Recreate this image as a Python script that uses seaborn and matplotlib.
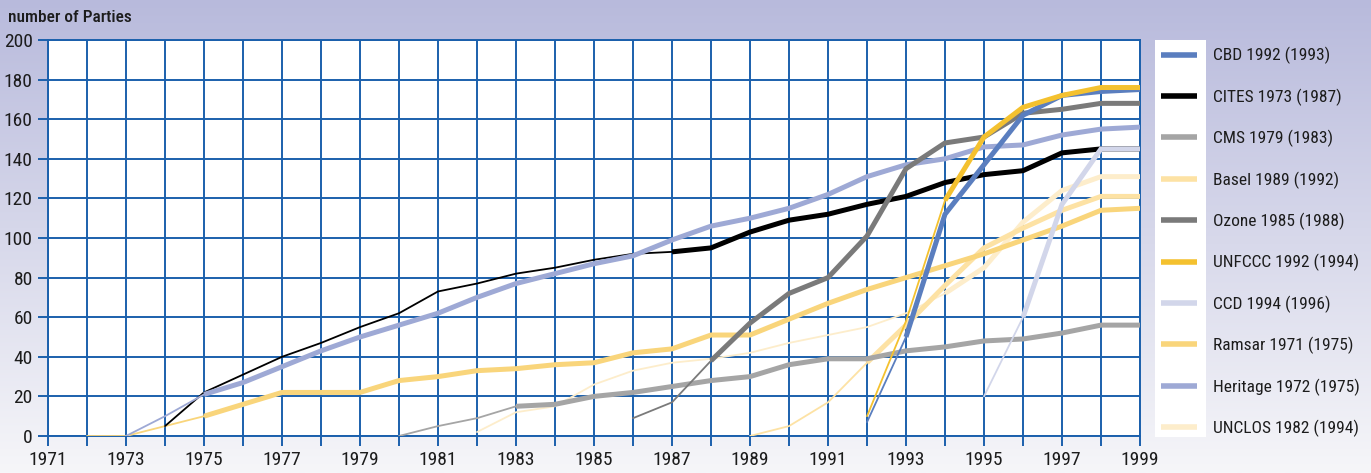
import numpy as np
import pandas as pd
import matplotlib
matplotlib.use("Agg")
import matplotlib.pyplot as plt
from matplotlib.lines import Line2D
from matplotlib.patches import Rectangle
from matplotlib import font_manager as fm
import seaborn as sns

# ---------------- data ----------------
treaties = ["CBD 1992 (1993)", "CITES 1973 (1987)", "CMS 1979 (1983)", "Basel 1989 (1992)",
            "Ozone 1985 (1988)", "UNFCCC 1992 (1994)", "CCD 1994 (1996)", "Ramsar 1971 (1975)",
            "Heritage 1972 (1975)", "UNCLOS 1982 (1994)"]

cbd_start, cbd_entry = 1992, 1993
cbd = [7, 50, 112, 137, 162, 172, 174, 175]

cites_start, cites_entry = 1974, 1987
cites = [5, 22, 31, 40, 47, 55, 62, 73, 77, 82, 85, 89, 92, 93, 95, 103, 109, 112, 117, 121,
         128, 132, 134, 143, 145, 145]

cms_start, cms_entry = 1980, 1983
cms = [0, 5, 9, 15, 16, 20, 22, 25, 28, 30, 36, 39, 39, 43, 45, 48, 49, 52, 56, 56]

basel_start, basel_entry = 1989, 1992
basel = [0, 5, 17, 37, 56, 76, 95, 105, 114, 121, 121]

ozone_start, ozone_entry = 1986, 1988
ozone = [9, 17, 38, 57, 72, 80, 101, 135, 148, 151, 163, 165, 168, 168]

unfccc_start, unfccc_entry = 1992, 1994
unfccc = [10, 58, 119, 151, 166, 172, 176, 176]

ccd_start, ccd_entry = 1995, 1996
ccd = [20, 60, 117, 145, 145]

ramsar_start, ramsar_entry = 1972, 1975
ramsar = [0, 0, 5, 10, 16, 22, 22, 22, 28, 30, 33, 34, 36, 37, 42, 44, 51, 51, 59, 67,
          74, 80, 86, 92, 99, 106, 114, 115]

heritage_start, heritage_entry = 1973, 1975
heritage = [0, 10, 21, 27, 35, 43, 50, 56, 62, 70, 77, 82, 87, 91, 99, 106, 110, 115, 122, 131,
            137, 140, 146, 147, 152, 155, 156]

unclos_start, unclos_entry = 1982, 1994
unclos = [2, 12, 15, 26, 33, 37, 39, 42, 47, 51, 55, 62, 72, 85, 108, 124, 131, 131]

colors = {
    "CBD 1992 (1993)": "#5a7ebf",
    "CITES 1973 (1987)": "#000000",
    "CMS 1979 (1983)": "#a5a5a5",
    "Basel 1989 (1992)": "#fde2a4",
    "Ozone 1985 (1988)": "#7a7a7a",
    "UNFCCC 1992 (1994)": "#f4c12f",
    "CCD 1994 (1996)": "#d2d6ea",
    "Ramsar 1971 (1975)": "#f9d57b",
    "Heritage 1972 (1975)": "#9ea9d5",
    "UNCLOS 1982 (1994)": "#fdedcb",
}

series = {
    "CBD 1992 (1993)": (cbd_start, cbd_entry, cbd),
    "CITES 1973 (1987)": (cites_start, cites_entry, cites),
    "CMS 1979 (1983)": (cms_start, cms_entry, cms),
    "Basel 1989 (1992)": (basel_start, basel_entry, basel),
    "Ozone 1985 (1988)": (ozone_start, ozone_entry, ozone),
    "UNFCCC 1992 (1994)": (unfccc_start, unfccc_entry, unfccc),
    "CCD 1994 (1996)": (ccd_start, ccd_entry, ccd),
    "Ramsar 1971 (1975)": (ramsar_start, ramsar_entry, ramsar),
    "Heritage 1972 (1975)": (heritage_start, heritage_entry, heritage),
    "UNCLOS 1982 (1994)": (unclos_start, unclos_entry, unclos),
}

draw_order = ["UNCLOS 1982 (1994)", "Basel 1989 (1992)", "Ramsar 1971 (1975)", "CMS 1979 (1983)",
              "CITES 1973 (1987)", "Heritage 1972 (1975)", "Ozone 1985 (1988)",
              "CBD 1992 (1993)", "UNFCCC 1992 (1994)", "CCD 1994 (1996)"]

# ---------------- style ----------------
sns.set_theme(style="white")
names = {f.name for f in fm.fontManager.ttflist}
narrow = [n for n in ["Liberation Sans Narrow", "Roboto Condensed", "Open Sans Condensed",
                      "DejaVu Sans"] if n in names]
plt.rcParams["font.family"] = narrow + ["DejaVu Sans"]
plt.rcParams["font.stretch"] = "condensed"
FS = 12.5
BLUE = "#1b60ac"
TXT = "#1c1c1c"
THICK = 3.6
THIN = 1.3

W, H = 1371, 473
fig = plt.figure(figsize=(W / 100, H / 100), dpi=100)

# gradient background
bg = fig.add_axes([0, 0, 1, 1], zorder=-10)
top = np.array([0xb8, 0xba, 0xdc]) / 255
bot = np.array([0xf6, 0xf6, 0xf9]) / 255
t = np.linspace(0, 1, 256)[:, None]
grad = top[None, :] * (1 - t) + bot[None, :] * t
bg.imshow(grad[:, None, :], aspect="auto", extent=[0, 1, 0, 1])
bg.set_axis_off()

x0, x1, yb, yt = 48, 1140, 436, 40
ax = fig.add_axes([x0 / W, 1 - yb / H, (x1 - x0) / W, (yb - yt) / H])
ax.set_facecolor("white")

for name in draw_order:
    start, entry, vals = series[name]
    df = pd.DataFrame({"year": np.arange(start, start + len(vals)), "parties": vals})
    thin = df[df["year"] <= entry]
    thick = df[df["year"] >= entry]
    if len(thin) > 1:
        sns.lineplot(data=thin, x="year", y="parties", ax=ax, color=colors[name],
                     lw=THIN, estimator=None, sort=False, zorder=3)
    if len(thick) > 1:
        sns.lineplot(data=thick, x="year", y="parties", ax=ax, color=colors[name],
                     lw=THICK, estimator=None, sort=False, zorder=3,
                     solid_joinstyle="miter", solid_capstyle="butt")

ax.set_xlim(1971, 1999)
ax.set_ylim(0, 200)
ax.set_xticks(range(1971, 2000))
ax.set_xticklabels([str(y) if (y - 1971) % 2 == 0 else "" for y in range(1971, 2000)])
ax.set_yticks(range(0, 201, 20))
ax.grid(True, color=BLUE, lw=1.4, zorder=1)
ax.set_axisbelow(True)
for s in ax.spines.values():
    s.set_color(BLUE)
    s.set_linewidth(1.4)
ax.tick_params(axis="both", direction="out", length=7, width=1.4, color=BLUE,
               labelsize=14, labelcolor=TXT, pad=4, bottom=True, left=True)
ax.set_xlabel("")
ax.set_ylabel("")

fig.text(8 / W, 1 - 18 / H, "number of Parties", fontsize=12.5, color=TXT,
         va="center", ha="left", fontweight="medium")

# legend
fig.add_artist(Rectangle((1155 / W, 1 - 437 / H), 51 / W, 397 / H,
                         transform=fig.transFigure, facecolor="white",
                         edgecolor="none", zorder=1))
handles = [Line2D([0], [0], color=colors[n], lw=THICK + 0.4, solid_capstyle="butt")
           for n in treaties]
leg = fig.legend(handles, treaties, loc="upper left",
                 bbox_to_anchor=(1156 / W, 1 - 42 / H), frameon=False,
                 fontsize=FS, labelcolor=TXT, handlelength=36 / (FS * 1.389),
                 handletextpad=16 / (FS * 1.389), labelspacing=1.39,
                 borderpad=0.3, borderaxespad=0)
leg.set_zorder(5)

fig.savefig("out.png", dpi=100)
